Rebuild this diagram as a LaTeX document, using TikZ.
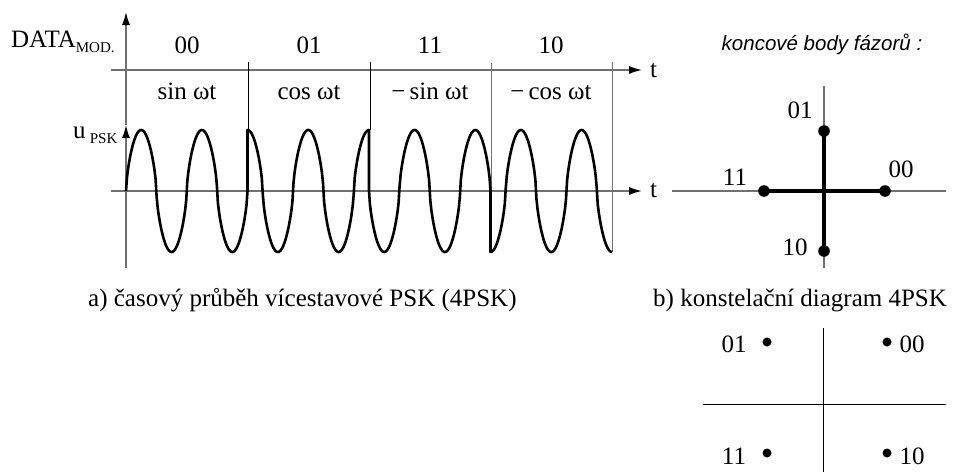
\documentclass[tikz,border=0pt]{standalone}
\usepackage{fontspec}
\setmainfont{Liberation Serif}
\newfontfamily\headfont{Liberation Sans}
\usetikzlibrary{arrows.meta}
\definecolor{axisgray}{HTML}{707070}

\begin{document}
\begin{tikzpicture}[x=1pt, y=-1pt, >={Latex[length=13pt,width=8pt,color=black]}, font=\fontsize{25}{30}\selectfont,
    axis/.style={axisgray, line width=1.3pt},
    sep/.style={black, line width=0.8pt},
    wave/.style={black, line width=2.6pt, line join=round},
    phasor/.style={black, line width=4.5pt},
    lbl/.style={inner sep=0pt, anchor=base},
    declare function={sq(\a)=sign(\a)*(abs(\a)+0.0001)^0.65;}]
    \useasboundingbox (0,0) rectangle (954,474);
    \begin{scope}
      \coordinate (top) at (126,12); \coordinate (mid) at (126,125); \coordinate (bot) at (126,268);
      \coordinate (d0) at (111,70); \coordinate (d1) at (642,70);
      \coordinate (t0) at (111,191); \coordinate (t1) at (642,191);
      \draw[axis, ->] (bot) -- (mid); \draw[axis, ->] (mid) -- (top);
      \draw[axis, ->] (d0) -- (d1); \draw[axis, ->] (t0) -- (t1);
      \node[inner sep=0pt, anchor=west] (td) at (650,71) {t}; \node[inner sep=0pt, anchor=west] (tu) at (650,191) {t};
      \draw[sep] (248,62) -- (248,130) (370,62) -- (370,130);
      \draw[axis, line width=1pt] (491,63) -- (491,252) (612,62) -- (612,252);
      \node[lbl, anchor=base west] (data) at (11,47) {DATA\raisebox{-5pt}{\fontsize{15}{18}\selectfont MOD.}};
      \node[lbl, anchor=base west] (upsk) at (73,138) {u\,\raisebox{-5pt}{\fontsize{15}{18}\selectfont PSK}};
      \node[lbl] (b1) at (187,53) {00}; \node[lbl] (b2) at (309,53) {01};
      \node[lbl] (b3) at (430,53) {11}; \node[lbl] (b4) at (551,53) {10};
      \node[lbl] (f1) at (187,99) {sin ωt}; \node[lbl] (f2) at (309,99) {cos ωt};
      \node[lbl] (f3) at (430,99) {−\,sin ωt}; \node[lbl] (f4) at (551,99) {−\,cos ωt};
      \draw[wave] plot[domain=0:121.5, samples=120] ({126+\x},{191-61*sq(sin(5.92593*\x))})
        -- plot[domain=0:121.5, samples=120] ({247.5+\x},{191-61*sq(cos(5.92593*\x))})
        -- plot[domain=0:121.5, samples=120] ({369+\x},{191+61*sq(sin(5.92593*\x))})
        -- plot[domain=0:121.5, samples=120] ({490.5+\x},{191+61*sq(cos(5.92593*\x))});
      \node[lbl, anchor=base west] (capa) at (88,306) {a) časový průběh vícestavové PSK (4PSK)};
    \end{scope}
    \begin{scope}
      \coordinate (o) at (824,191);
      \coordinate (p00) at (885,191); \coordinate (p01) at (824,131); \coordinate (p11) at (764,191); \coordinate (p10) at (824,251);
      \draw[axis] (672,191) -- (946,191) (824,86) -- (824,268);
      \draw[phasor] (p11) -- (p00) (p01) -- (p10);
      \foreach \p in {p00,p01,p11,p10} \fill (\p) circle (5.8pt);
      \node[lbl] (l01) at (800,118) {01}; \node[lbl] (l11) at (735,185) {11};
      \node[lbl] (l00) at (901,177) {00}; \node[lbl] (l10) at (795,255) {10};
      \node[lbl, font=\headfont\itshape\fontsize{20.5}{25}\selectfont] (head) at (822,50) {koncové body fázorů :};
      \node[lbl, anchor=base west] (capb) at (653,306) {b) konstelační diagram 4PSK};
    \end{scope}
    \begin{scope}
      \coordinate (c00) at (887,342); \coordinate (c01) at (767,342); \coordinate (c11) at (767,453); \coordinate (c10) at (887,453);
      \draw[black, line width=1pt] (703,404) -- (946,404) (823,328) -- (823,472);
      \foreach \p in {c00,c01,c11,c10} \fill (\p) circle (4.5pt);
      \node[lbl] (k01) at (734,352) {01}; \node[lbl] (k00) at (912,352) {00};
      \node[lbl] (k11) at (734,464) {11}; \node[lbl] (k10) at (912,464) {10};
    \end{scope}
  \end{tikzpicture}
\end{document}
